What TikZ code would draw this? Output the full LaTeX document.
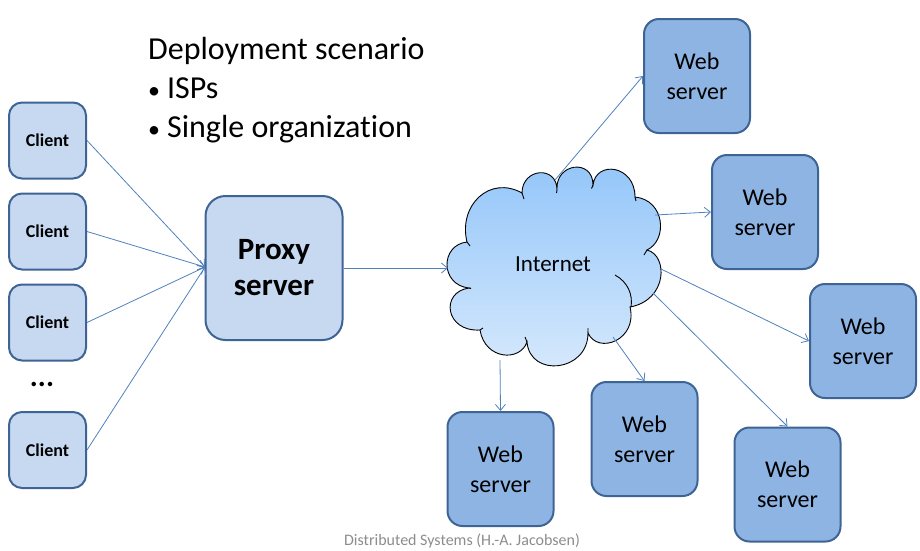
\documentclass[tikz,border=0pt]{standalone}
\usepackage{fontspec}
\setmainfont{Carlito}[Ligatures=NoCommon]
\usetikzlibrary{arrows.meta}
\definecolor{clientfill}{HTML}{C6D9F1}
\definecolor{webfill}{HTML}{8EB4E3}
\definecolor{boxborder}{HTML}{3E6495}
\definecolor{linkblue}{HTML}{4F81BD}
\definecolor{cloudtop}{HTML}{92C5F9}
\definecolor{cloudbot}{HTML}{D8EAFD}
\definecolor{footgray}{HTML}{8C8C8C}
\tikzset{
  clientbox/.style={draw=boxborder, line width=2pt, fill=clientfill, rounded corners=13pt,
    minimum width=77pt, minimum height=76pt, font=\bfseries\fontsize{18}{20}\selectfont},
  proxybox/.style={draw=boxborder, line width=2pt, fill=clientfill, rounded corners=20pt,
    minimum width=137pt, minimum height=144pt, align=center, font=\bfseries\fontsize{31}{36}\selectfont},
  webbox/.style={draw=boxborder, line width=2pt, fill=webfill, rounded corners=15pt,
    minimum width=106pt, minimum height=114pt, align=center, font=\fontsize{24}{30}\selectfont},
  link/.style={draw=linkblue, line width=0.8pt, -{Straight Barb[length=6pt,width=10pt]}},
}
\begin{document}
\begin{tikzpicture}[x=1pt,y=-1pt]
\useasboundingbox (0,0) rectangle (920,550);

% title
\node[anchor=west, font=\fontsize{32}{39}\selectfont, align=left, inner sep=0pt] (title) at (148,90)
  {Deployment scenario\\{\fontsize{24}{24}\selectfont\textbullet}\hspace{7pt}ISPs\\{\fontsize{24}{24}\selectfont\textbullet}\hspace{7pt}Single organization};

% clients
\node[clientbox] (c1) at (47.5,140.5) {Client};
\node[clientbox] (c2) at (47.5,231.5) {Client};
\node[clientbox] (c3) at (47.5,322.5) {Client};
\node[clientbox] (c4) at (47.5,450) {Client};
\node[font=\bfseries\fontsize{30}{30}\selectfont] (dots) at (42,384) {...};

% proxy
\node[proxybox] (proxy) at (274,268) {Proxy\\server};

% cloud
\shade[top color=cloudtop, bottom color=cloudbot, draw=black, line width=0.9pt]
  (469,288) .. controls (440,285) and (440,245) .. (467,242)
  .. controls (458,205) and (490,175) .. (522,193)
  .. controls (522,168) and (557,165) .. (557,190)
  .. controls (555,163) and (593,158) .. (593,185)
  .. controls (596,160) and (635,165) .. (635,197)
  .. controls (665,200) and (668,240) .. (647,250)
  .. controls (668,255) and (668,300) .. (630,307)
  .. controls (638,340) and (598,355) .. (588,333)
  .. controls (588,372) and (530,378) .. (527,342)
  .. controls (520,362) and (485,360) .. (480,330)
  .. controls (445,332) and (440,292) .. (469,288) -- cycle;
\draw[black, line width=0.9pt]
  (615,275) .. controls (628,282) and (633,295) .. (631,307)
  (469,288) -- (471,288.5)
  (467,242) .. controls (468,244) .. (470,246)
  (522,193) .. controls (523,196) .. (524,199)
  (557,190) -- (556.5,193)
  (593,185) -- (591.5,188.5)
  (635,197) -- (636,201)
  (647,250) -- (644,255)
  (588,333) -- (588,328)
  (527,342) -- (525,337)
  (480,330) -- (483,328);
\node[font=\fontsize{23}{27}\selectfont] (inet) at (553,264) {Internet};

% cloud attachment points
\coordinate (pin) at (448,268);
\coordinate (o1) at (555,180);
\coordinate (o2) at (655,215);
\coordinate (o3) at (661,269);
\coordinate (o6) at (653,293);
\coordinate (o5) at (613,337);
\coordinate (o4) at (500,360);

% web servers
\node[webbox] (w1) at (697,76) {Web\\server};
\node[webbox] (w2) at (765,212) {Web\\server};
\node[webbox] (w3) at (863,341) {Web\\server};
\node[webbox] (w4) at (500.5,469) {Web\\server};
\node[webbox] (w5) at (644.5,439) {Web\\server};
\node[webbox] (w6) at (787.5,484.5) {Web\\server};

% links
\coordinate (pjoin) at (205,267);
\draw[link] (c1.east) -- (pjoin);
\draw[link] (c2.east) -- (pjoin);
\draw[link] (c3.east) -- (pjoin);
\draw[link] (c4.east) -- (pjoin);
\draw[link] (proxy.east) -- (pin);
\draw[link] (o1) -- (w1.west);
\draw[link] (o2) -- (w2.west);
\draw[link] (o3) -- (w3.west);
\draw[link] (o6) -- (w6.north);
\draw[link] (o5) -- (w5.north);
\draw[link] (o4) -- (w4.north);

% footer
\node[text=footgray, font=\fontsize{16}{18}\selectfont] (foot) at (462,541) {Distributed Systems (H.-A. Jacobsen)};
\end{tikzpicture}
\end{document}
